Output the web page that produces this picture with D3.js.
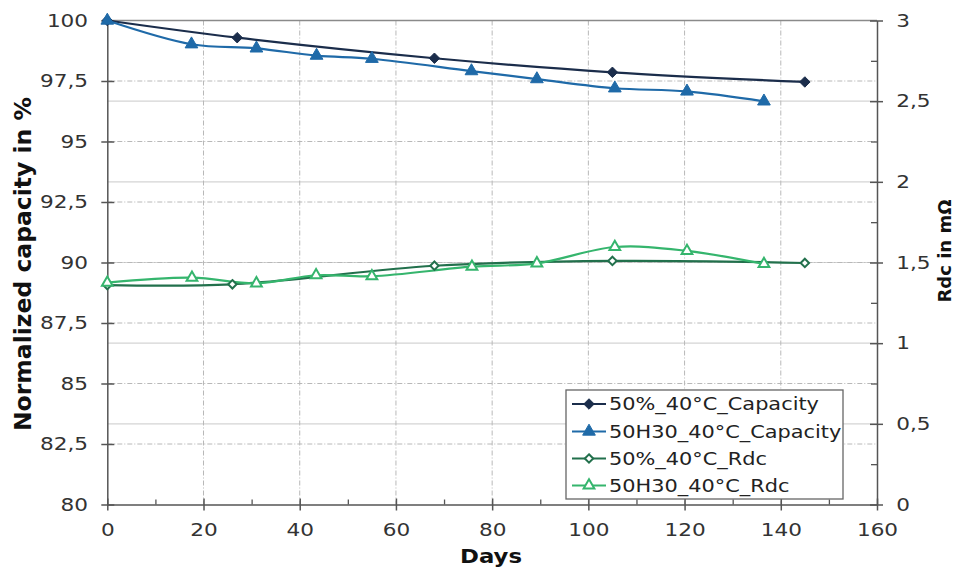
<!DOCTYPE html>
<html>
<head>
<meta charset="utf-8">
<script src="https://cdn.jsdelivr.net/npm/d3@7"></script>
<style>
  body { margin: 0; background: #fff; }
  svg { display: block; font-family: "DejaVu Sans", Verdana, sans-serif; }
</style>
</head>
<body>
<svg id="chart" width="956" height="568"></svg>
<script>
// ---------------- DATA ----------------
const seriesNames = ["50%_40°C_Capacity", "50H30_40°C_Capacity", "50%_40°C_Rdc", "50H30_40°C_Rdc"];

const cap50Days = [0, 27, 68, 105, 145];
const cap50Vals = [100, 99.29, 98.44, 97.86, 97.46];

const capH30Days = [0, 17.5, 31, 43.5, 55, 75.7, 89.3, 105.5, 120.5, 136.5];
const capH30Vals = [100, 99.02, 98.85, 98.55, 98.42, 97.91, 97.58, 97.2, 97.07, 96.66];

const rdc50Days = [0, 26, 68, 105, 145];
const rdc50Vals = [1.36, 1.365, 1.48, 1.51, 1.497];

const rdcH30Days = [0, 17.6, 31, 43.4, 55, 75.8, 89.3, 105.5, 120.5, 136.5];
const rdcH30Vals = [1.375, 1.406, 1.371, 1.421, 1.415, 1.474, 1.495, 1.596, 1.572, 1.491];

const xTicks = [0, 20, 40, 60, 80, 100, 120, 140, 160];
const xMinorTicks = [10, 30, 50, 70, 90, 110, 130, 150];
const leftTicks = [80, 82.5, 85, 87.5, 90, 92.5, 95, 97.5, 100];
const rightTicks = [0, 0.5, 1, 1.5, 2, 2.5, 3];
const rightMinorTicks = [0.25, 0.75, 1.25, 1.75, 2.25, 2.75];

const colors = ["#1b2d4b", "#1f6aa8", "#22704c", "#35b56d"];

// ---------------- LAYOUT ----------------
const svg = d3.select("#chart");
const SX = 1.2; // horizontal text stretch of the original image
const L = 107.3, R = 877, T = 20.5, B = 504.5;

const x = d3.scaleLinear().domain([0, 160]).range([L, R]);
const yL = d3.scaleLinear().domain([80, 100]).range([B, T]);
const yR = d3.scaleLinear().domain([0, 3]).range([B, T]);
const fmt = d => String(d).replace(".", ",");

// ---------------- GRID ----------------
const grid = svg.append("g");
grid.selectAll("line.rg").data(rightTicks.filter(d => d > 0 && d < 3)).join("line")
  .attr("x1", L).attr("x2", R).attr("y1", d => yR(d)).attr("y2", d => yR(d))
  .attr("stroke", "#d4d4d4").attr("stroke-width", 1.2);
grid.selectAll("line.lg").data(leftTicks.filter(d => d > 80 && d < 100)).join("line")
  .attr("x1", L).attr("x2", R).attr("y1", d => yL(d)).attr("y2", d => yL(d))
  .attr("stroke", "#b8b8b8").attr("stroke-width", 1).attr("stroke-dasharray", "5,2,1,2");
grid.selectAll("line.vg").data(xTicks.filter(d => d > 0 && d < 160)).join("line")
  .attr("x1", d => x(d)).attr("x2", d => x(d)).attr("y1", T).attr("y2", B)
  .attr("stroke", "#b8b8b8").attr("stroke-width", 1).attr("stroke-dasharray", "5,2,1,2");
svg.append("line").attr("x1", L).attr("x2", R).attr("y1", T).attr("y2", T)
  .attr("stroke", "#8a8a8a").attr("stroke-width", 1.3);

// ---------------- AXES ----------------
function styleAxis(g) {
  g.select(".domain").attr("stroke", "#555").attr("stroke-width", 1.5);
  g.selectAll(".tick line").attr("stroke", "#555").attr("stroke-width", 1.5);
  g.selectAll("text").attr("fill", "#333").style("font-size", "18px")
    .style("font-family", "'DejaVu Sans', Verdana, sans-serif")
    .attr("transform", `scale(${SX},1)`);
}

const gx = svg.append("g").attr("transform", `translate(0,${B})`)
  .call(d3.axisBottom(x).tickValues(xTicks).tickFormat(fmt).tickSizeInner(6).tickSizeOuter(0).tickPadding(13));
styleAxis(gx);
gx.selectAll(".tick line").attr("y1", -6);
svg.append("g").attr("transform", `translate(0,${B})`)
  .call(d3.axisBottom(x).tickValues(xMinorTicks).tickFormat("").tickSize(-5))
  .call(g => { g.select(".domain").remove(); g.selectAll("line").attr("stroke", "#555").attr("stroke-width", 1.3); });

const gl = svg.append("g").attr("transform", `translate(${L},0)`)
  .call(d3.axisLeft(yL).tickValues(leftTicks).tickFormat(fmt).tickSizeInner(6).tickSizeOuter(0).tickPadding(10));
styleAxis(gl);
gl.selectAll(".tick line").attr("x1", 7);

const gr = svg.append("g").attr("transform", `translate(${R},0)`)
  .call(d3.axisRight(yR).tickValues(rightTicks).tickFormat(fmt).tickSizeInner(6).tickSizeOuter(0).tickPadding(10));
styleAxis(gr);
gr.selectAll(".tick line").attr("x1", -7);
svg.append("g").attr("transform", `translate(${R},0)`)
  .call(d3.axisRight(yR).tickValues(rightMinorTicks).tickFormat("").tickSize(-6))
  .call(g => { g.select(".domain").remove(); g.selectAll("line").attr("stroke", "#555").attr("stroke-width", 1.3); });

// ---------------- AXIS TITLES ----------------
svg.append("text")
  .attr("transform", `translate(23,264) rotate(-90)`)
  .attr("text-anchor", "middle").attr("dy", "0.36em")
  .style("font-size", "23.5px").style("font-weight", "bold").attr("fill", "#111")
  .text("Normalized capacity in %");
svg.append("text")
  .attr("transform", `translate(945,251) rotate(-90)`)
  .attr("text-anchor", "middle").attr("dy", "0.36em")
  .style("font-size", "18px").style("font-weight", "bold").attr("fill", "#111")
  .text("Rdc in mΩ");
svg.append("text")
  .attr("transform", `translate(491,563) scale(${SX},1)`)
  .attr("text-anchor", "middle")
  .style("font-size", "19px").style("font-weight", "bold").attr("fill", "#111")
  .text("Days");

// ---------------- SERIES ----------------
const series = [
  { name: seriesNames[0], days: cap50Days, vals: cap50Vals, y: yL, color: colors[0], marker: "diamond", fill: true },
  { name: seriesNames[1], days: capH30Days, vals: capH30Vals, y: yL, color: colors[1], marker: "triangle", fill: true },
  { name: seriesNames[2], days: rdc50Days, vals: rdc50Vals, y: yR, color: colors[2], marker: "diamond", fill: false },
  { name: seriesNames[3], days: rdcH30Days, vals: rdcH30Vals, y: yR, color: colors[3], marker: "triangle", fill: false }
];

function markerPath(type, open) {
  if (type === "diamond") return d3.symbol(d3.symbolDiamond2, open ? 45 : 70)();
  return d3.symbol(d3.symbolTriangle, open ? 50 : 70)();
}

const plot = svg.append("g");
series.forEach(s => {
  const pts = s.days.map((d, i) => [d, s.vals[i]]);
  const line = d3.line().x(d => x(d[0])).y(d => s.y(d[1])).curve(d3.curveCatmullRom.alpha(0.5));
  plot.append("path").datum(pts).attr("d", line)
    .attr("fill", "none").attr("stroke", s.color).attr("stroke-width", 2.2);
});
series.forEach(s => {
  const pts = s.days.map((d, i) => [d, s.vals[i]]);
  plot.append("g").selectAll("path").data(pts).join("path")
    .attr("transform", d => `translate(${x(d[0])},${s.y(d[1])})`)
    .attr("d", markerPath(s.marker, !s.fill))
    .attr("fill", s.fill ? s.color : "#fff")
    .attr("stroke", s.color).attr("stroke-width", s.fill ? 1 : 2);
});

// ---------------- LEGEND ----------------
const lg = svg.append("g");
lg.append("rect").attr("x", 566).attr("y", 390).attr("width", 277).attr("height", 109)
  .attr("fill", "#fff").attr("stroke", "#666").attr("stroke-width", 1.3);
const rowY = [404, 431.5, 458.5, 485.5];
series.forEach((s, i) => {
  const yy = rowY[i];
  lg.append("line").attr("x1", 572).attr("x2", 606).attr("y1", yy).attr("y2", yy)
    .attr("stroke", s.color).attr("stroke-width", 2.2);
  lg.append("path").attr("transform", `translate(589,${yy})`)
    .attr("d", markerPath(s.marker, !s.fill))
    .attr("fill", s.fill ? s.color : "#fff").attr("stroke", s.color).attr("stroke-width", s.fill ? 1 : 2);
  lg.append("text").attr("transform", `translate(609,${yy}) scale(${SX},1)`)
    .attr("dy", "0.36em").style("font-size", "17.4px").attr("fill", "#222")
    .text(s.name);
});
</script>
</body>
</html>
